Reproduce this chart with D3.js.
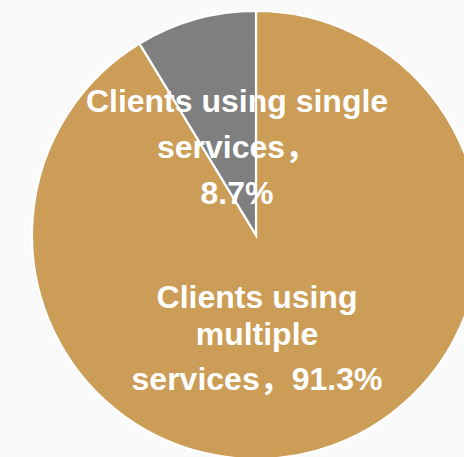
<!DOCTYPE html>
<html>
<head>
<meta charset="utf-8">
<script src="https://cdn.jsdelivr.net/npm/d3@7"></script>
<style>
  html, body { margin: 0; padding: 0; background: #fafafa; }
  svg { display: block; }
</style>
</head>
<body>
<script>
// Share of clients by number of services used
const categories = ["Clients using multiple services", "Clients using single services"];
const shares = [91.3, 8.7];
const sliceColors = ["#cc9d57", "#7f7f7f"];
// Label lines per slice, as wrapped in the chart
const labelLines = [
  ["Clients using", "multiple", "services，91.3%"],
  ["Clients using single", "services，", "8.7%"]
];

const W = 464, H = 457;
const cx = 256, cy = 235, R = 224;

const svg = d3.select("body").append("svg")
  .attr("width", W).attr("height", H);

svg.append("rect").attr("width", W).attr("height", H).attr("fill", "#fafafa");

const pie = d3.pie().sort(null).value(d => d)(shares);
const arc = d3.arc().innerRadius(0).outerRadius(R);

const g = svg.append("g").attr("transform", `translate(${cx},${cy})`);

g.selectAll("path.slice")
  .data(pie)
  .join("path")
  .attr("class", "slice")
  .attr("d", arc)
  .attr("fill", (d, i) => sliceColors[i])
  .attr("stroke", "#ffffff")
  .attr("stroke-width", 2.2)
  .attr("stroke-linejoin", "miter");

// Label anchors (offsets from centre) and line spacing for each slice
const labelPos = [
  { x: 1, y: 73, lh: [0, 37, 82] },
  { x: -19, y: -123, lh: [0, 46, 92] }
];

const fontFamily = "'Liberation Sans', Arial, 'Noto Sans CJK SC', sans-serif";

pie.forEach((d, i) => {
  const t = g.append("text")
    .attr("text-anchor", "middle")
    .attr("fill", "#ffffff")
    .attr("font-family", fontFamily)
    .attr("font-weight", "bold")
    .attr("font-size", 32);
  labelLines[i].forEach((line, k) => {
    t.append("tspan")
      .attr("x", labelPos[i].x)
      .attr("y", labelPos[i].y + labelPos[i].lh[k])
      .text(line);
  });
});
</script>
</body>
</html>
